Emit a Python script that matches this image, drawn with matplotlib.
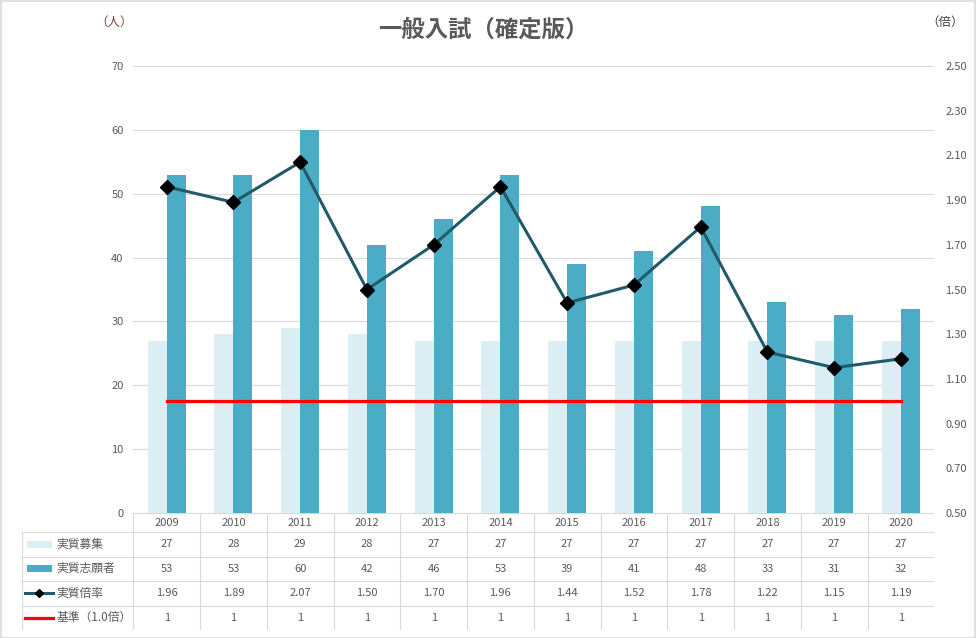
import matplotlib
matplotlib.use("Agg")
import matplotlib.pyplot as plt
from matplotlib.patches import Rectangle
from matplotlib.lines import Line2D
import numpy as np

plt.rcParams['font.family'] = ['Noto Sans CJK JP', 'DejaVu Sans']

# data
years = ["2009", "2010", "2011", "2012", "2013", "2014",
         "2015", "2016", "2017", "2018", "2019", "2020"]
recruit = [27, 28, 29, 28, 27, 27, 27, 27, 27, 27, 27, 27]
applicants = [53, 53, 60, 42, 46, 53, 39, 41, 48, 33, 31, 32]
ratio = [1.96, 1.89, 2.07, 1.50, 1.70, 1.96, 1.44, 1.52, 1.78, 1.22, 1.15, 1.19]
baseline = [1, 1, 1, 1, 1, 1, 1, 1, 1, 1, 1, 1]
row_labels = ["実質募集", "実質志願者", "実質倍率", "基準（1.0倍）"]
title = "一般入試（確定版）"

c_light = "#DAEEF3"
c_dark = "#4BACC6"
c_line = "#215B69"
c_red = "#FF0000"
c_grid = "#D9D9D9"
c_text = "#595959"

W, H = 976, 638
fig = plt.figure(figsize=(W / 100, H / 100), dpi=100)

# pixel layout of the plot area
px_l, px_r, px_t, px_b = 133.3, 934.3, 66, 513
ax = fig.add_axes([px_l / W, 1 - px_b / H, (px_r - px_l) / W, (px_b - px_t) / H])
ax2 = ax.twinx()

x = np.arange(len(years))
bw = 0.285
ax.bar(x - bw / 2, recruit, bw, color=c_light, zorder=2)
ax.bar(x + bw / 2, applicants, bw, color=c_dark, zorder=2)
ax.set_xlim(-0.5, len(years) - 0.5)
ax.set_ylim(0, 70)
ax.set_yticks(range(0, 71, 10))
ax.yaxis.grid(True, color=c_grid, lw=0.8)
ax.set_axisbelow(True)
ax.set_xticks([])

ax2.plot(x, baseline, color=c_red, lw=2.3, zorder=3)
ax2.plot(x, ratio, color=c_line, lw=2.2, marker="D", ms=7.5,
         mfc="black", mec="black", zorder=4)
ax2.set_ylim(0.5, 2.5)
ax2.set_yticks(np.arange(0.5, 2.51, 0.2))
ax2.set_yticklabels(["%.2f" % v for v in np.arange(0.5, 2.51, 0.2)])

for a in (ax, ax2):
    for s in a.spines.values():
        s.set_visible(False)
    a.tick_params(length=0, labelsize=8, labelcolor=c_text)
ax.tick_params(axis="y", pad=7)
ax2.tick_params(axis="y", pad=8)

# data table under the plot
tb_l, tb_b = 22.3, 630
colw = (px_r - px_l) / len(years)
tax = fig.add_axes([tb_l / W, 1 - tb_b / H, (px_r - tb_l) / W, (tb_b - px_b) / H])
x0 = -0.5 - (px_l - tb_l) / colw
tax.set_xlim(x0, len(years) - 0.5)
rows = [0, 19, 43.5, 68, 92.5, 117]
tax.set_ylim(rows[-1], 0)
tax.axis("off")

lkw = dict(color=c_grid, lw=0.8)
tax.add_line(Line2D([-0.5, len(years) - 0.5], [rows[0], rows[0]], **lkw))
for r in rows[1:]:
    tax.add_line(Line2D([x0, len(years) - 0.5], [r, r], **lkw))
tax.add_line(Line2D([x0, x0], [rows[1], rows[-1]], **lkw))
for k in range(len(years) + 1):
    tax.add_line(Line2D([k - 0.5, k - 0.5], [rows[0], rows[-1]], **lkw))

tkw = dict(ha="center", va="center", fontsize=8, color=c_text)
for i, yr in enumerate(years):
    tax.text(i, (rows[0] + rows[1]) / 2, yr, **tkw)
table_vals = [
    [str(v) for v in recruit],
    [str(v) for v in applicants],
    ["%.2f" % v for v in ratio],
    [str(v) for v in baseline],
]
for r, vals in enumerate(table_vals):
    yc = (rows[r + 1] + rows[r + 2]) / 2
    for i, v in enumerate(vals):
        tax.text(i, yc, v, **tkw)
    tax.text(x0 + 34 / colw, yc, row_labels[r], ha="left", va="center",
             fontsize=8.5, color=c_text)

# legend keys
kx0 = x0 + 4.5 / colw
kx1 = x0 + 29.5 / colw
for r, col in enumerate([c_light, c_dark]):
    yc = (rows[r + 1] + rows[r + 2]) / 2
    tax.add_patch(Rectangle((kx0, yc - 3.5), kx1 - kx0, 7, color=col, lw=0))
lx0 = x0 + 2.5 / colw
lx1 = x0 + 30.5 / colw
yc = (rows[3] + rows[4]) / 2
tax.add_line(Line2D([lx0, lx1], [yc, yc], color=c_line, lw=2.2))
tax.add_line(Line2D([(lx0 + lx1) / 2], [yc], marker="D", ms=4,
                    mfc="black", mec="black", lw=0))
yc = (rows[4] + rows[5]) / 2
tax.add_line(Line2D([lx0, lx1], [yc, yc], color=c_red, lw=2.3))

# titles and units
fig.text(483 / W, 1 - 30 / H, title, ha="center", va="center",
         fontsize=16.8, fontweight="bold", color=c_text)
fig.text(114 / W, 1 - 22 / H, "（人）", ha="center", va="center",
         fontsize=9, color="#7F3F3F")
fig.text(945 / W, 1 - 22 / H, "（倍）", ha="center", va="center",
         fontsize=9, color="#404040")

# outer border
fig.patches.append(Rectangle((0.5 / W, 0.5 / H), 1 - 1.5 / W, 1 - 1.5 / H,
                             transform=fig.transFigure, fill=False,
                             edgecolor=c_grid, lw=1.2))

fig.savefig("out.png", dpi=100)
